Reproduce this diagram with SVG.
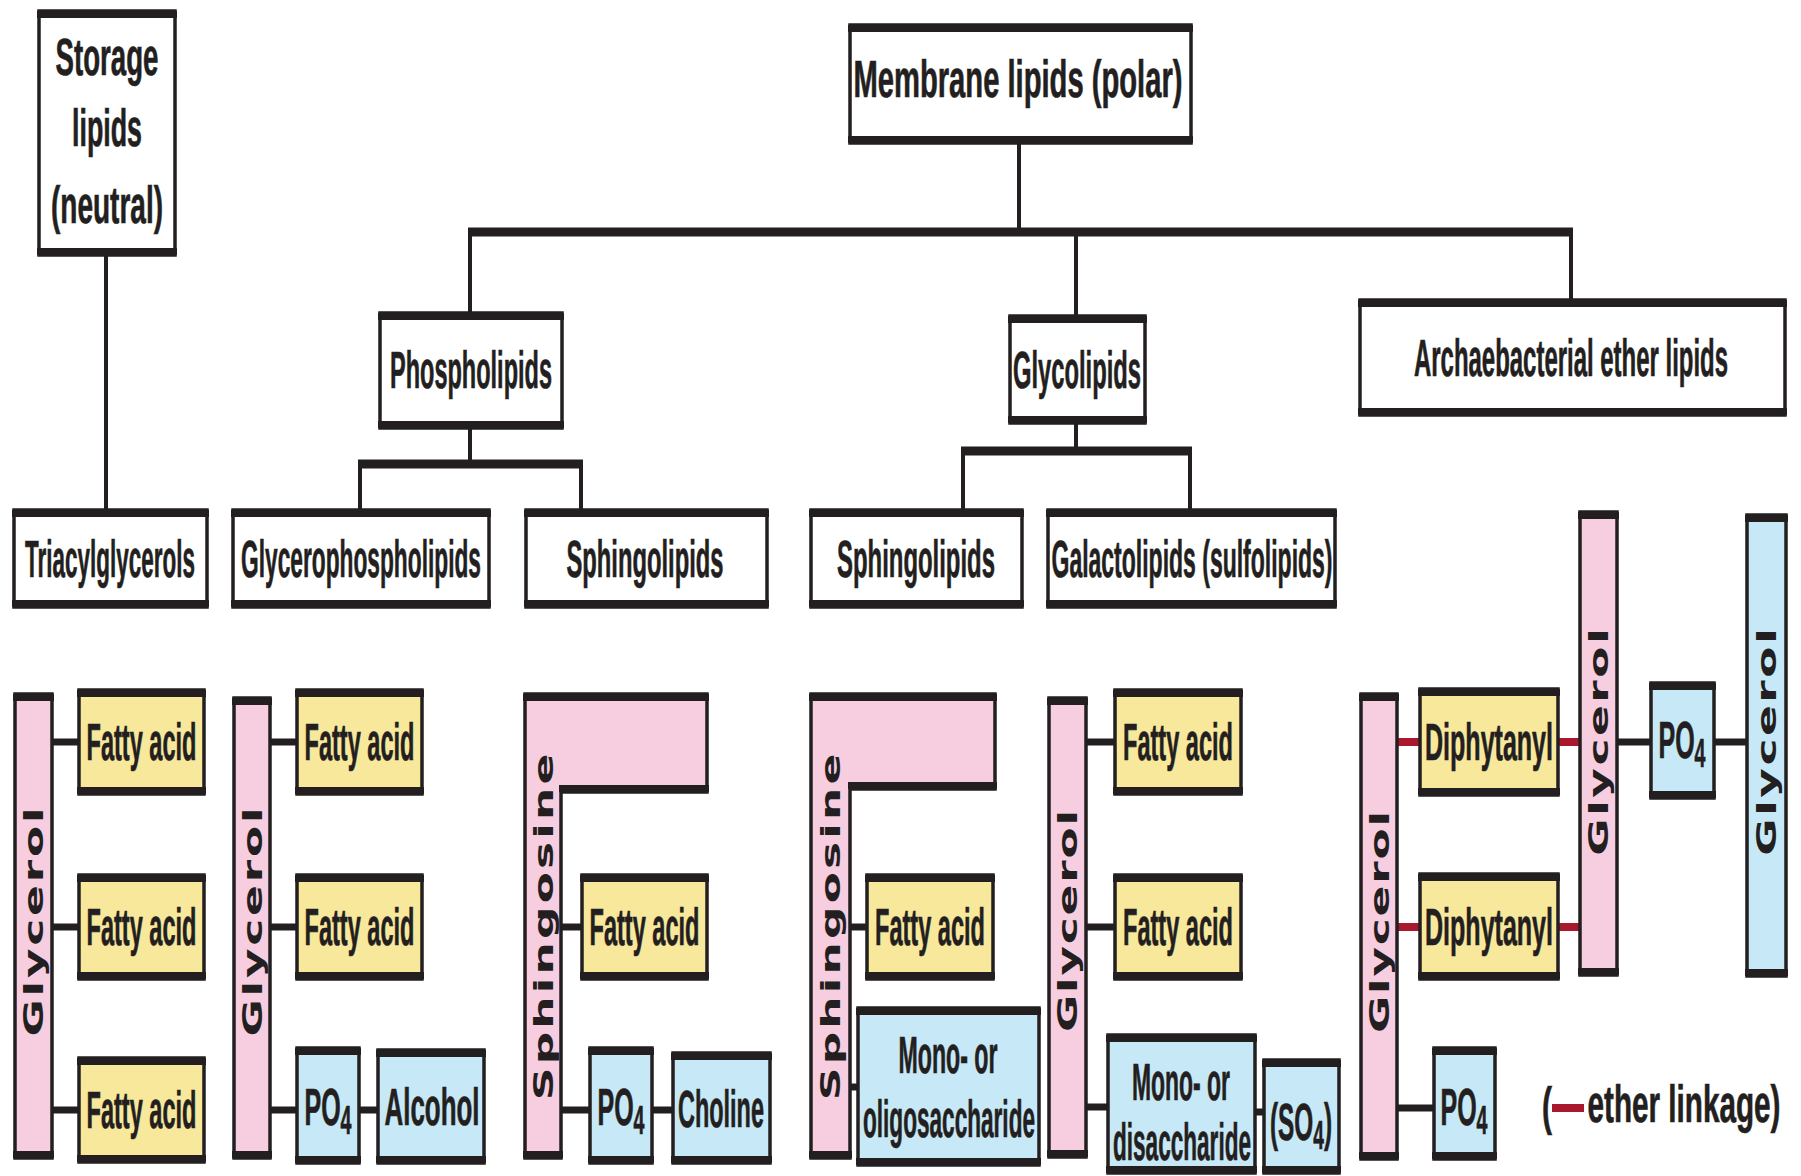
<svg xmlns="http://www.w3.org/2000/svg" width="1801" height="1176" viewBox="0 0 1801 1176">
<style>
.bx{stroke:#231f20;stroke-width:3.5}
.w{fill:#fff}.p{fill:#f7cde0}.y{fill:#f8e89c}.b{fill:#c7e9f7}
.hb{stroke:#231f20;stroke-width:7;fill:none}
.t{font-family:"Liberation Sans Narrow","Liberation Sans",Arial,sans-serif;font-weight:bold;font-size:51px;fill:#231f20;stroke:#231f20;stroke-width:0.7;text-anchor:middle}
.v{font-family:"DejaVu Sans","Liberation Sans",sans-serif;font-weight:bold;font-size:26px;fill:#231f20;text-anchor:middle}
.cv{stroke:#231f20;stroke-width:4;fill:none}
.ch{stroke:#231f20;stroke-width:9;fill:none}
.cb{stroke:#231f20;stroke-width:7;fill:none}
.cr{stroke:#a8192e;stroke-width:8;fill:none}
</style>
<rect width="1801" height="1176" fill="#fff"/>

<g id="connectors">
  <path class="cv" d="M106 255V510 M1019 143V232 M470 232V313 M1076 232V316 M1571 232V300 M470 428V464 M360 464V510 M581 464V510 M1076 423V451 M963 451V510 M1190 451V510"/>
  <path class="ch" d="M468 232H1573 M358 464H583 M961 451H1192"/>
  <path class="cb" d="M52 742H79 M52 927H79 M52 1110H79 M270 742H297 M270 927H297 M270 1110H297 M359 1110H378 M561 927H582 M561 1110H590 M652 1110H673 M850 927H867 M850 1087H858 M1086 742H1115 M1086 927H1115 M1086 1107H1108 M1255 1112H1264 M1617 742H1651 M1714 742H1747 M1397 1108H1434"/>
  <path class="cr" d="M1397 742H1420 M1558 742H1580 M1397 927H1420 M1558 927H1580"/>
</g>

<g id="storage">
  <rect class="bx w" x="39" y="11" width="136" height="244"/>
  <path class="hb" d="M37 14.5H177 M37 251.5H177"/>
  <text class="t" x="107" y="75" font-size="52" textLength="103" lengthAdjust="spacingAndGlyphs">Storage</text>
  <text class="t" x="107" y="146" font-size="52" textLength="70" lengthAdjust="spacingAndGlyphs">lipids</text>
  <text class="t" x="107" y="223" font-size="52" textLength="112" lengthAdjust="spacingAndGlyphs">(neutral)</text>
</g>
<g id="membrane">
  <rect class="bx w" x="850" y="25" width="341" height="118"/>
  <path class="hb" d="M848 28.5H1193 M848 139.5H1193"/>
  <text class="t" x="1018" y="97" textLength="329" lengthAdjust="spacingAndGlyphs">Membrane lipids (polar)</text>
</g>
<g id="phospholipids">
  <rect class="bx w" x="380" y="313" width="182" height="115"/>
  <path class="hb" d="M378 316.5H564 M378 424.5H564"/>
  <text class="t" x="471" y="388" font-size="52" textLength="162" lengthAdjust="spacingAndGlyphs">Phospholipids</text>
</g>
<g id="glycolipids">
  <rect class="bx w" x="1010" y="316" width="135" height="107"/>
  <path class="hb" d="M1008 319.5H1147 M1008 419.5H1147"/>
  <text class="t" x="1077" y="388" textLength="128" lengthAdjust="spacingAndGlyphs">Glycolipids</text>
</g>
<g id="archaebacterial">
  <rect class="bx w" x="1360" y="300" width="425" height="115"/>
  <path class="hb" d="M1358 303.5H1787 M1358 411.5H1787"/>
  <text class="t" x="1571" y="376" textLength="314" lengthAdjust="spacingAndGlyphs">Archaebacterial ether lipids</text>
</g>

<g id="triacylglycerols">
  <rect class="bx w" x="14" y="510" width="193" height="97"/>
  <path class="hb" d="M12 513.5H209 M12 603.5H209"/>
  <text class="t" x="110" y="577" textLength="170" lengthAdjust="spacingAndGlyphs">Triacylglycerols</text>
</g>
<g id="glycerophospholipids">
  <rect class="bx w" x="233" y="510" width="256" height="97"/>
  <path class="hb" d="M231 513.5H491 M231 603.5H491"/>
  <text class="t" x="361" y="577" textLength="240" lengthAdjust="spacingAndGlyphs">Glycerophospholipids</text>
</g>
<g id="sphingolipids-1">
  <rect class="bx w" x="526" y="510" width="241" height="97"/>
  <path class="hb" d="M524 513.5H769 M524 603.5H769"/>
  <text class="t" x="645" y="577" textLength="157" lengthAdjust="spacingAndGlyphs">Sphingolipids</text>
</g>
<g id="sphingolipids-2">
  <rect class="bx w" x="811" y="510" width="211" height="97"/>
  <path class="hb" d="M809 513.5H1024 M809 603.5H1024"/>
  <text class="t" x="916" y="577" textLength="158" lengthAdjust="spacingAndGlyphs">Sphingolipids</text>
</g>
<g id="galactolipids">
  <rect class="bx w" x="1048" y="510" width="287" height="97"/>
  <path class="hb" d="M1046 513.5H1337 M1046 603.5H1337"/>
  <text class="t" x="1192" y="577" textLength="281" lengthAdjust="spacingAndGlyphs">Galactolipids (sulfolipids)</text>
</g>

<!-- column 1: triacylglycerol -->
<g id="glycerol-1">
  <rect class="bx p" x="15" y="694" width="37" height="464"/>
  <path class="hb" d="M13 697.5H54 M13 1154.5H54"/>
  <text class="v" transform="translate(33.5 922) rotate(-90) scale(1.75 1)" y="9.5" textLength="131">Glycerol</text>
</g>
<g id="fatty-acid-1a">
  <rect class="bx y" x="79" y="690" width="125" height="104"/>
  <path class="hb" d="M77 693.5H206 M77 790.5H206"/>
  <text class="t" x="141.5" y="760" textLength="110" lengthAdjust="spacingAndGlyphs">Fatty acid</text>
</g>
<g id="fatty-acid-1b">
  <rect class="bx y" x="79" y="875" width="125" height="104"/>
  <path class="hb" d="M77 878.5H206 M77 975.5H206"/>
  <text class="t" x="141.5" y="945" textLength="110" lengthAdjust="spacingAndGlyphs">Fatty acid</text>
</g>
<g id="fatty-acid-1c">
  <rect class="bx y" x="79" y="1058" width="125" height="104"/>
  <path class="hb" d="M77 1061.5H206 M77 1158.5H206"/>
  <text class="t" x="141.5" y="1128" textLength="110" lengthAdjust="spacingAndGlyphs">Fatty acid</text>
</g>

<!-- column 2: glycerophospholipid -->
<g id="glycerol-2">
  <rect class="bx p" x="234" y="698" width="36" height="460"/>
  <path class="hb" d="M232 701.5H272 M232 1154.5H272"/>
  <text class="v" transform="translate(252 922) rotate(-90) scale(1.75 1)" y="9.5" textLength="131">Glycerol</text>
</g>
<g id="fatty-acid-2a">
  <rect class="bx y" x="297" y="690" width="125" height="104"/>
  <path class="hb" d="M295 693.5H424 M295 790.5H424"/>
  <text class="t" x="359.5" y="760" textLength="110" lengthAdjust="spacingAndGlyphs">Fatty acid</text>
</g>
<g id="fatty-acid-2b">
  <rect class="bx y" x="297" y="875" width="125" height="104"/>
  <path class="hb" d="M295 878.5H424 M295 975.5H424"/>
  <text class="t" x="359.5" y="945" textLength="110" lengthAdjust="spacingAndGlyphs">Fatty acid</text>
</g>
<g id="po4-2">
  <rect class="bx b" x="297" y="1048" width="62" height="115"/>
  <path class="hb" d="M295 1051.5H361 M295 1159.5H361"/>
  <text class="t" x="328" y="1125" textLength="47" lengthAdjust="spacingAndGlyphs">PO<tspan dy="9" font-size="40">4</tspan></text>
</g>
<g id="alcohol">
  <rect class="bx b" x="378" y="1050" width="106" height="113"/>
  <path class="hb" d="M376 1053.5H486 M376 1159.5H486"/>
  <text class="t" x="432" y="1125" textLength="95" lengthAdjust="spacingAndGlyphs">Alcohol</text>
</g>

<!-- column 3: sphingomyelin -->
<g id="sphingosine-1">
  <path class="bx p" d="M525 694H707V792H561V1158H525Z"/>
  <path class="hb" d="M523 697.5H709 M559 788.5H709 M523 1154.5H563"/>
  <text class="v" transform="translate(543.5 927) rotate(-90) scale(1.75 1)" y="9.5" textLength="198">Sphingosine</text>
</g>
<g id="fatty-acid-3">
  <rect class="bx y" x="582" y="875" width="125" height="104"/>
  <path class="hb" d="M580 878.5H709 M580 975.5H709"/>
  <text class="t" x="644.5" y="945" textLength="110" lengthAdjust="spacingAndGlyphs">Fatty acid</text>
</g>
<g id="po4-3">
  <rect class="bx b" x="590" y="1048" width="62" height="115"/>
  <path class="hb" d="M588 1051.5H654 M588 1159.5H654"/>
  <text class="t" x="621" y="1125" textLength="47" lengthAdjust="spacingAndGlyphs">PO<tspan dy="9" font-size="40">4</tspan></text>
</g>
<g id="choline">
  <rect class="bx b" x="673" y="1053" width="97" height="110"/>
  <path class="hb" d="M671 1056.5H772 M671 1159.5H772"/>
  <text class="t" x="721" y="1127" textLength="86" lengthAdjust="spacingAndGlyphs">Choline</text>
</g>

<!-- column 4: glycosphingolipid -->
<g id="sphingosine-2">
  <path class="bx p" d="M811 694H995V789H850V1158H811Z"/>
  <path class="hb" d="M809 697.5H997 M848 785.5H997 M809 1154.5H852"/>
  <text class="v" transform="translate(830.5 927) rotate(-90) scale(1.75 1)" y="9.5" textLength="198">Sphingosine</text>
</g>
<g id="fatty-acid-4">
  <rect class="bx y" x="867" y="875" width="126" height="104"/>
  <path class="hb" d="M865 878.5H995 M865 975.5H995"/>
  <text class="t" x="930" y="945" textLength="110" lengthAdjust="spacingAndGlyphs">Fatty acid</text>
</g>
<g id="oligosaccharide">
  <rect class="bx b" x="858" y="1008" width="181" height="157"/>
  <path class="hb" d="M856 1011.5H1041 M856 1161.5H1041"/>
  <text class="t" x="948" y="1073" textLength="99" lengthAdjust="spacingAndGlyphs">Mono- or</text>
  <text class="t" x="949" y="1137" textLength="172" lengthAdjust="spacingAndGlyphs">oligosaccharide</text>
</g>

<!-- column 5: galactolipid -->
<g id="glycerol-5">
  <rect class="bx p" x="1049" y="698" width="37" height="459"/>
  <path class="hb" d="M1047 701.5H1088 M1047 1153.5H1088"/>
  <text class="v" transform="translate(1067.5 921) rotate(-90) scale(1.75 1)" y="9.5" textLength="127">Glycerol</text>
</g>
<g id="fatty-acid-5a">
  <rect class="bx y" x="1115" y="690" width="126" height="104"/>
  <path class="hb" d="M1113 693.5H1243 M1113 790.5H1243"/>
  <text class="t" x="1178" y="760" textLength="110" lengthAdjust="spacingAndGlyphs">Fatty acid</text>
</g>
<g id="fatty-acid-5b">
  <rect class="bx y" x="1115" y="875" width="126" height="104"/>
  <path class="hb" d="M1113 878.5H1243 M1113 975.5H1243"/>
  <text class="t" x="1178" y="945" textLength="110" lengthAdjust="spacingAndGlyphs">Fatty acid</text>
</g>
<g id="disaccharide">
  <rect class="bx b" x="1108" y="1035" width="147" height="138"/>
  <path class="hb" d="M1106 1038.5H1257 M1106 1169.5H1257"/>
  <text class="t" x="1181" y="1100" textLength="98" lengthAdjust="spacingAndGlyphs">Mono- or</text>
  <text class="t" x="1182" y="1160" textLength="138" lengthAdjust="spacingAndGlyphs">disaccharide</text>
</g>
<g id="so4">
  <rect class="bx b" x="1264" y="1060" width="75" height="113"/>
  <path class="hb" d="M1262 1063.5H1341 M1262 1169.5H1341"/>
  <text class="t" x="1301" y="1140" textLength="62" lengthAdjust="spacingAndGlyphs">(SO<tspan dy="9" font-size="40">4</tspan><tspan dy="-9">)</tspan></text>
</g>

<!-- column 6: archaebacterial ether lipid -->
<g id="glycerol-6">
  <rect class="bx p" x="1361" y="694" width="36" height="465"/>
  <path class="hb" d="M1359 697.5H1399 M1359 1155.5H1399"/>
  <text class="v" transform="translate(1379 922) rotate(-90) scale(1.75 1)" y="9.5" textLength="127">Glycerol</text>
</g>
<g id="diphytanyl-a">
  <rect class="bx y" x="1420" y="689" width="138" height="106"/>
  <path class="hb" d="M1418 692.5H1560 M1418 791.5H1560"/>
  <text class="t" x="1489" y="760" textLength="128" lengthAdjust="spacingAndGlyphs">Diphytanyl</text>
</g>
<g id="diphytanyl-b">
  <rect class="bx y" x="1420" y="874" width="138" height="105"/>
  <path class="hb" d="M1418 877.5H1560 M1418 975.5H1560"/>
  <text class="t" x="1489" y="945" textLength="128" lengthAdjust="spacingAndGlyphs">Diphytanyl</text>
</g>
<g id="glycerol-6b">
  <rect class="bx p" x="1580" y="512" width="37" height="463"/>
  <path class="hb" d="M1578 515.5H1619 M1578 971.5H1619"/>
  <text class="v" transform="translate(1598.5 742) rotate(-90) scale(1.75 1)" y="9.5" textLength="130">Glycerol</text>
</g>
<g id="po4-6a">
  <rect class="bx b" x="1651" y="683" width="63" height="115"/>
  <path class="hb" d="M1649 686.5H1716 M1649 794.5H1716"/>
  <text class="t" x="1682" y="758" textLength="47" lengthAdjust="spacingAndGlyphs">PO<tspan dy="9" font-size="40">4</tspan></text>
</g>
<g id="glycerol-6c">
  <rect class="bx b" x="1747" y="515" width="39" height="461"/>
  <path class="hb" d="M1745 518.5H1788 M1745 972.5H1788"/>
  <text class="v" transform="translate(1766.5 742) rotate(-90) scale(1.75 1)" y="9.5" textLength="130">Glycerol</text>
</g>
<g id="po4-6b">
  <rect class="bx b" x="1434" y="1048" width="61" height="111"/>
  <path class="hb" d="M1432 1051.5H1497 M1432 1155.5H1497"/>
  <text class="t" x="1464" y="1125" textLength="47" lengthAdjust="spacingAndGlyphs">PO<tspan dy="9" font-size="40">4</tspan></text>
</g>

<g id="legend">
  <text class="t" x="1547" y="1124" font-size="62" textLength="10" lengthAdjust="spacingAndGlyphs">(</text>
  <path class="cr" stroke-width="10" d="M1552 1108H1584"/>
  <text class="t" x="1684" y="1122" font-size="64" textLength="193" lengthAdjust="spacingAndGlyphs">ether linkage)</text>
</g>
</svg>
